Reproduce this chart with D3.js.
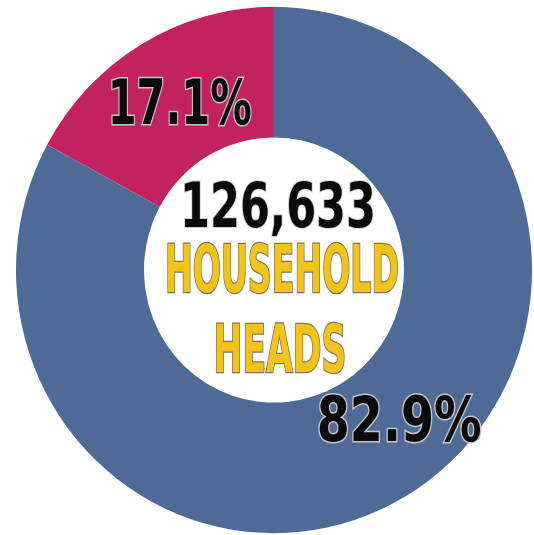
<!DOCTYPE html>
<html>
<head>
<meta charset="utf-8">
<script src="https://cdn.jsdelivr.net/npm/d3@7"></script>
<style>
  html, body { margin: 0; padding: 0; background: #fff; }
  svg { display: block; }
</style>
</head>
<body>
<svg id="chart" width="534" height="535"></svg>
<script>
// chart data
const categories = ["Other", "Household heads"];
const shares = [17.1, 82.9];
const sliceColors = ["#c32260", "#4e6b98"];
const totalLabel = "126,633";
const centerLines = ["HOUSEHOLD", "HEADS"];

const svg = d3.select('#chart');
const cx = 274, cy = 270;
const outerR = 258, innerR = 130;

const g = svg.append('g').attr('transform', `translate(${cx},${cy})`);
// the original picture is a touch taller than wide
const ring = g.append('g').attr('transform', 'scale(1,1.02)');

// blue starts at 12 o'clock going clockwise, crimson fills the rest
const pie = d3.pie()
    .value(d => d.value)
    .sort(null)
    .startAngle(-shares[0] / 100 * 2 * Math.PI)
    .endAngle(2 * Math.PI - shares[0] / 100 * 2 * Math.PI);

const data = categories.map((c, i) => ({ name: c, value: shares[i], color: sliceColors[i] }));
const arcs = pie(data);

const arc = d3.arc().innerRadius(innerR).outerRadius(outerR);

ring.selectAll('path.slice')
    .data(arcs)
    .join('path')
    .attr('class', 'slice')
    .attr('d', arc)
    .attr('fill', d => d.data.color);

// percentage labels sit near the slice centroids
const labelOffsets = [[5, 21], [26, 4]];
const labelWidths = [144, 165];
g.selectAll('text.pct')
    .data(arcs)
    .join('text')
    .attr('class', 'pct')
    .attr('x', (d, i) => arc.centroid(d)[0] + labelOffsets[i][0])
    .attr('y', (d, i) => arc.centroid(d)[1] + labelOffsets[i][1])
    .attr('text-anchor', 'middle')
    .attr('font-family', '"DejaVu Sans Condensed", "DejaVu Sans", sans-serif')
    .attr('font-weight', 'bold')
    .attr('font-size', 62)
    .attr('textLength', (d, i) => labelWidths[i])
    .attr('lengthAdjust', 'spacingAndGlyphs')
    .attr('fill', '#0b0b0b')
    .attr('stroke', '#c4c4c4')
    .attr('stroke-width', 3)
    .attr('paint-order', 'stroke')
    .text(d => d.data.value.toFixed(1) + '%');

// centre text
g.append('text')
    .attr('x', 4)
    .attr('y', -43)
    .attr('text-anchor', 'middle')
    .attr('font-family', '"DejaVu Sans Condensed", "DejaVu Sans", sans-serif')
    .attr('font-weight', 'bold')
    .attr('font-size', 62)
    .attr('textLength', 196)
    .attr('lengthAdjust', 'spacingAndGlyphs')
    .attr('fill', '#0b0b0b')
    .attr('stroke', '#d0d0d0')
    .attr('stroke-width', 2)
    .attr('paint-order', 'stroke')
    .text(totalLabel);

const lineX = [8, 6];
const lineY = [22, 102];
const lineW = [234, 133];
g.selectAll('text.center')
    .data(centerLines)
    .join('text')
    .attr('class', 'center')
    .attr('x', (d, i) => lineX[i])
    .attr('y', (d, i) => lineY[i])
    .attr('text-anchor', 'middle')
    .attr('font-family', '"Liberation Sans Narrow", "DejaVu Sans Condensed", sans-serif')
    .attr('font-weight', 'bold')
    .attr('font-size', 66)
    .attr('textLength', (d, i) => lineW[i])
    .attr('lengthAdjust', 'spacingAndGlyphs')
    .attr('fill', '#f3c317')
    .attr('stroke', '#7a7462')
    .attr('stroke-width', 2.5)
    .attr('paint-order', 'stroke')
    .text(d => d);
</script>
</body>
</html>
